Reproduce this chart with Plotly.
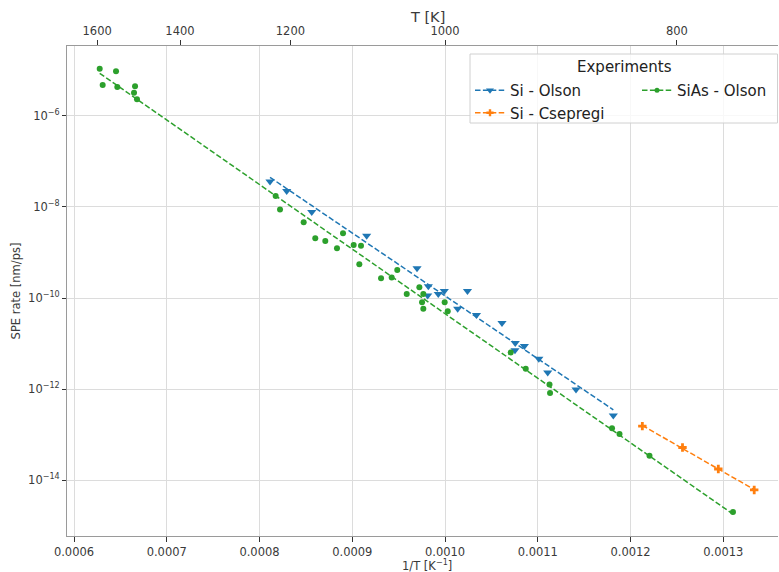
import numpy as np
import plotly.graph_objects as go

# ---------------- data ----------------
si_olson_invT = [8.113e-4, 8.293e-4, 8.563e-4, 9.155e-4, 9.698e-4, 9.820e-4, 9.813e-4,
                 9.927e-4, 9.992e-4, 10.242e-4, 10.136e-4, 10.339e-4, 10.614e-4, 10.757e-4,
                 10.754e-4, 10.855e-4, 11.011e-4, 11.107e-4, 11.412e-4, 11.814e-4]
si_olson_rate = [3.65e-8, 2.25e-8, 7.80e-9, 2.32e-9, 4.48e-10, 1.82e-10, 1.13e-10,
                 1.23e-10, 1.42e-10, 1.42e-10, 5.83e-11, 4.21e-11, 2.81e-11, 1.03e-11,
                 7.10e-12, 8.81e-12, 4.61e-12, 2.31e-12, 9.73e-13, 2.61e-13]

si_csepregi_invT = [12.127e-4, 12.560e-4, 12.946e-4, 13.333e-4]
si_csepregi_rate = [1.53e-13, 5.20e-14, 1.75e-14, 6.07e-15]

sias_olson_invT = [6.277e-4, 6.453e-4, 6.309e-4, 6.467e-4, 6.658e-4, 6.647e-4, 6.679e-4,
                   8.174e-4, 8.221e-4, 8.476e-4, 8.601e-4, 8.709e-4, 8.835e-4, 8.900e-4,
                   9.015e-4, 9.094e-4, 9.076e-4, 9.310e-4, 9.425e-4, 9.485e-4,
                   9.587e-4, 9.723e-4, 9.766e-4, 9.752e-4, 9.766e-4, 9.996e-4, 10.029e-4,
                   10.708e-4, 10.870e-4, 11.126e-4, 11.132e-4,
                   11.800e-4, 11.881e-4, 12.204e-4, 13.104e-4]
sias_olson_rate = [1.09e-5, 9.59e-6, 4.80e-6, 4.34e-6, 4.49e-6, 3.25e-6, 2.33e-6,
                   1.75e-8, 8.75e-9, 4.63e-9, 2.06e-9, 1.80e-9, 1.245e-9, 2.65e-9,
                   1.47e-9, 1.40e-9, 5.55e-10, 2.73e-10, 2.81e-10, 4.15e-10,
                   1.22e-10, 1.73e-10, 1.22e-10, 8.11e-11, 5.78e-11, 8.11e-11, 5.14e-11,
                   6.34e-12, 2.78e-12, 1.26e-12, 8.15e-13,
                   1.37e-13, 1.03e-13, 3.42e-14, 1.99e-15]

top_T_ticks = [1600, 1400, 1200, 1000, 800]
x_ticks = [0.0006, 0.0007, 0.0008, 0.0009, 0.0010, 0.0011, 0.0012, 0.0013]
y_tick_exps = [-14, -12, -10, -8, -6]

# ---------------- styling ----------------
BLUE, ORANGE, GREEN = "#1f77b4", "#ff7f0e", "#2ca02c"
FONT = "DejaVu Sans"
TXT = "#3a3a3a"
DASH = "5.5px,2.4px"
X_RANGE = [5.9245e-4, 13.5895e-4]
Y_RANGE = [-15.229, -4.463]


def arrhenius_fit(x, y):
    x = np.asarray(x)
    p = np.polyfit(x, np.log10(y), 1)
    xs = np.array([x.min(), x.max()])
    return xs, 10 ** np.polyval(p, xs)


series = [
    ("Si - Olson", si_olson_invT, si_olson_rate, BLUE, "triangle-down", 8, "legend"),
    ("Si - Csepregi", si_csepregi_invT, si_csepregi_rate, ORANGE, "cross", 7, "legend"),
    ("SiAs - Olson", sias_olson_invT, sias_olson_rate, GREEN, "circle", 6, "legend2"),
]

fig = go.Figure()
for name, x, y, col, sym, size, leg in series:
    fx, fy = arrhenius_fit(x, y)
    fig.add_trace(go.Scatter(x=fx, y=fy, mode="lines", showlegend=False,
                             line=dict(color=col, width=1.5, dash=DASH), hoverinfo="skip"))
    fig.add_trace(go.Scatter(x=x, y=y, mode="markers", showlegend=False, name=name,
                             marker=dict(color=col, symbol=sym, size=size, line=dict(width=0))))
    fig.add_trace(go.Scatter(x=[None], y=[None], mode="lines+markers", name=name, legend=leg,
                             line=dict(color=col, width=1.5, dash=DASH),
                             marker=dict(color=col, symbol=sym, size=size - 1, line=dict(width=0))))

# invisible trace so the top axis exists
fig.add_trace(go.Scatter(x=[None], y=[None], xaxis="x2", showlegend=False, hoverinfo="skip"))

W, H = 779, 572
ML, MR, MT, MB = 67, 1, 46, 36
pw, ph = W - ML - MR, H - MT - MB


def px_x(px):
    return (px - ML) / pw


def px_y(py):
    return 1 - (py - MT) / ph


fig.update_layout(
    width=W, height=H,
    margin=dict(l=ML, r=MR, t=MT, b=MB, autoexpand=False),
    paper_bgcolor="white", plot_bgcolor="white",
    font=dict(family=FONT, size=11.5, color=TXT),
    xaxis=dict(
        range=X_RANGE, tickvals=x_ticks, tickformat=".4f",
        showgrid=True, gridcolor="#dcdcdc", gridwidth=1, zeroline=False,
        showline=True, linecolor="#9a9a9a", linewidth=1,
        ticks="outside", ticklen=5, tickcolor="#333", tickwidth=1,
        tickfont=dict(size=11.5, color=TXT),
    ),
    xaxis2=dict(
        overlaying="x", side="top", anchor="y", range=X_RANGE,
        tickvals=[1.0 / t for t in top_T_ticks], ticktext=[str(t) for t in top_T_ticks],
        showgrid=False, zeroline=False,
        showline=True, linecolor="#9a9a9a", linewidth=1,
        ticks="outside", ticklen=5, tickcolor="#333", tickwidth=1,
        tickfont=dict(size=11.5, color=TXT),
    ),
    yaxis=dict(
        type="log", range=Y_RANGE,
        tickvals=[10.0 ** e for e in y_tick_exps],
        ticktext=["10<sup>−%d</sup>" % (-e) for e in y_tick_exps],
        showgrid=True, gridcolor="#dcdcdc", gridwidth=1, zeroline=False,
        showline=True, linecolor="#9a9a9a", linewidth=1,
        ticks="outside", ticklen=4, tickcolor="#333", tickwidth=1,
        tickfont=dict(size=11.5, color=TXT),
        title=dict(text="SPE rate [nm/ps]", font=dict(size=11.5, color=TXT), standoff=5),
    ),
    legend=dict(
        x=px_x(470), y=px_y(74), xanchor="left", yanchor="top",
        bgcolor="rgba(0,0,0,0)", borderwidth=0, orientation="v",
        font=dict(size=15, color="#222"), tracegroupgap=0, itemwidth=30,
    ),
    legend2=dict(
        x=px_x(637), y=px_y(74), xanchor="left", yanchor="top",
        bgcolor="rgba(0,0,0,0)", borderwidth=0, orientation="v",
        font=dict(size=15, color="#222"), tracegroupgap=0, itemwidth=30,
    ),
    shapes=[dict(type="rect", xref="paper", yref="paper",
                 x0=px_x(470), x1=px_x(777.5), y0=px_y(123), y1=px_y(54),
                 fillcolor="rgba(255,255,255,0.8)", line=dict(color="#d0d0d0", width=1),
                 layer="above")],
    annotations=[
        dict(text="Experiments", xref="paper", yref="paper",
             x=px_x(624), y=px_y(67), xanchor="center", yanchor="middle",
             showarrow=False, font=dict(size=15, color="#222")),
        dict(text="T [K]", xref="paper", yref="paper",
             x=px_x(427), y=px_y(17), xanchor="center", yanchor="middle",
             showarrow=False, font=dict(size=14.5, color=TXT)),
        dict(text="1/T [K<sup>−1</sup>]", xref="paper", yref="paper",
             x=px_x(427), y=px_y(565), xanchor="center", yanchor="middle",
             showarrow=False, font=dict(size=11.5, color=TXT)),
    ],
)

fig.write_html("out.html", config={"displayModeBar": False},
               post_script="document.body.style.margin='0px';")
